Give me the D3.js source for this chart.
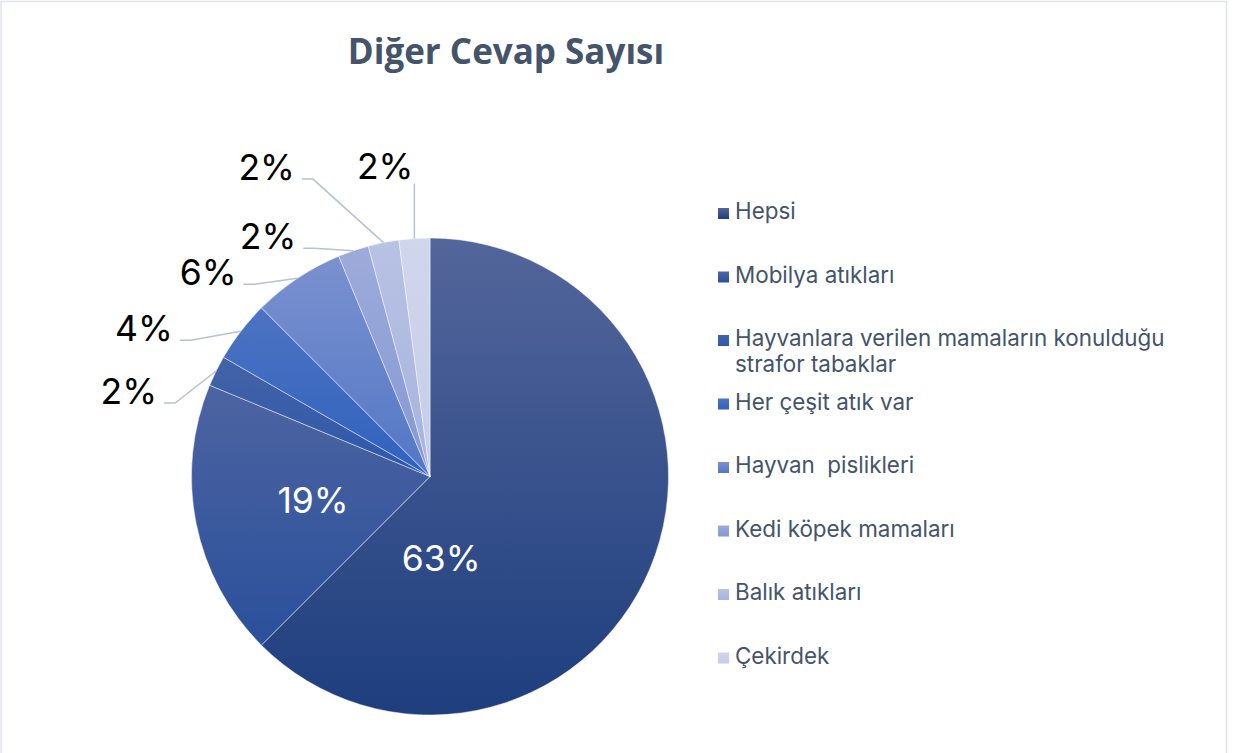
<!DOCTYPE html>
<html>
<head>
<meta charset="utf-8">
<script src="https://cdn.jsdelivr.net/npm/d3@7"></script>
<style>
  html, body { margin: 0; padding: 0; background: #fff; }
  svg { display: block; }
  text { white-space: pre; }
</style>
</head>
<body>
<svg id="chart" width="1235" height="753"></svg>
<script>
// ---- data ----
const title = "Diğer Cevap Sayısı";
const categories = [
  "Hepsi",
  "Mobilya atıkları",
  "Hayvanlara verilen mamaların konulduğu strafor tabaklar",
  "Her çeşit atık var",
  "Hayvan  pislikleri",
  "Kedi köpek mamaları",
  "Balık atıkları",
  "Çekirdek"
];
const legendLines = [
  ["Hepsi"],
  ["Mobilya atıkları"],
  ["Hayvanlara verilen mamaların konulduğu", "strafor tabaklar"],
  ["Her çeşit atık var"],
  ["Hayvan  pislikleri"],
  ["Kedi köpek mamaları"],
  ["Balık atıkları"],
  ["Çekirdek"]
];
const counts = [30, 9, 1, 2, 3, 1, 1, 1];

// ---- styles ----
const colorTop = ["#53669b", "#4d64a1", "#4463a6", "#4d73c2", "#7b91cf", "#9eabda", "#b8c2e3", "#d0d6ec"];
const colorBottom = ["#1e3e7e", "#2a509b", "#2d57ad", "#2f62be", "#5277c6", "#8498d2", "#a6b3de", "#c4cce8"];
const insideLabel = [true, true, false, false, false, false, false, false];
// inside label nudges relative to the slice centroid at half radius (px)
const insideNudge = [[-99, 36], [0, 0]];
// outside label attach point offsets relative to the slice's edge point (px)
const labelOffset = [null, null, [-52, 32], [-61, 9], [-54, 6], [-50, -2.5], [-81.5, -63.5], [0, -55]];

const svg = d3.select("#chart");
const cx = 430, cy = 476.5, R = 238.5;

// frame
svg.append("rect")
  .attr("x", 1).attr("y", 1.5).attr("width", 1225.5).attr("height", 800)
  .attr("fill", "none").attr("stroke", "#dfe3e9").attr("stroke-width", 1.5);

// title
svg.append("text")
  .attr("x", 506).attr("y", 64)
  .attr("text-anchor", "middle")
  .attr("font-family", "'Open Sans', sans-serif")
  .attr("font-weight", 700)
  .attr("font-size", 35)
  .attr("fill", "#44546a")
  .text(title);

// gradients
const defs = svg.append("defs");
categories.forEach((c, i) => {
  const g = defs.append("linearGradient").attr("id", "grad" + i)
    .attr("x1", 0).attr("y1", 0).attr("x2", 0).attr("y2", 1);
  g.append("stop").attr("offset", "0%").attr("stop-color", colorTop[i]);
  g.append("stop").attr("offset", "100%").attr("stop-color", colorBottom[i]);
});

const data = categories.map((c, i) => ({ name: c, value: counts[i], i }));
const total = d3.sum(counts);
const pie = d3.pie().value(d => d.value).sort(null).startAngle(0).endAngle(2 * Math.PI);
const arcs = pie(data);
const arc = d3.arc().innerRadius(0).outerRadius(R);
const edgeArc = d3.arc().innerRadius(R).outerRadius(R);
const fmt = d => Math.round(d / total * 100) + "%";

const g = svg.append("g").attr("transform", `translate(${cx},${cy})`);
g.selectAll("path.slice").data(arcs).join("path")
  .attr("class", "slice")
  .attr("d", arc)
  .attr("fill", d => `url(#grad${d.data.i})`)
  .attr("stroke", "rgba(255,255,255,0.6)")
  .attr("stroke-width", 0.75);

// inside labels
const inArc = d3.arc().innerRadius(R * 0.5).outerRadius(R * 0.5);
g.selectAll("text.inlab").data(arcs.filter(d => insideLabel[d.data.i])).join("text")
  .attr("class", "inlab")
  .attr("transform", d => {
    const c = inArc.centroid(d);
    const n = insideNudge[d.data.i];
    return `translate(${c[0] + n[0]},${c[1] + n[1]})`;
  })
  .attr("text-anchor", "middle")
  .attr("dy", "0.36em")
  .attr("font-family", "Inter, 'Liberation Sans', sans-serif")
  .attr("font-size", 35.5)
  .attr("fill", "#ffffff")
  .text(d => fmt(d.data.value));

// outside labels with leader lines
const outside = arcs.filter(d => !insideLabel[d.data.i]);
outside.forEach(d => {
  const e = edgeArc.centroid(d);
  const off = labelOffset[d.data.i];
  const a = [e[0] + off[0], e[1] + off[1]];
  let pts, tx, ty;
  if (off[0] === 0) {
    pts = [a, e];
    tx = a[0] - 1; ty = a[1] - 5;
  } else {
    const elbow = [a[0] + 11, a[1]];
    pts = [a, elbow, e];
    tx = a[0] - 7; ty = a[1] + 1;
  }
  g.append("path")
    .attr("d", d3.line()(pts))
    .attr("fill", "none")
    .attr("stroke", "#b7c1d0")
    .attr("stroke-width", 1.5);
  g.append("text")
    .attr("x", tx).attr("y", ty)
    .attr("text-anchor", "end")
    .attr("font-family", "Inter, 'Liberation Sans', sans-serif")
    .attr("font-size", 35.5)
    .attr("fill", "#000000")
    .text(fmt(d.data.value));
});

// legend
const legendY = d3.scalePoint().domain(d3.range(categories.length)).range([219, 663.5]);
const lg = svg.append("g");
categories.forEach((c, i) => {
  const y = legendY(i);
  lg.append("rect")
    .attr("x", 718).attr("y", y - 11).attr("width", 11).attr("height", 11)
    .attr("fill", `url(#grad${i})`);
  const t = lg.append("text")
    .attr("x", 735).attr("y", y)
    .attr("font-family", "Inter, 'Liberation Sans', sans-serif")
    .attr("font-size", 22.4)
    .attr("fill", "#44546a");
  legendLines[i].forEach((line, k) => {
    t.append("tspan").attr("x", 735).attr("y", y + k * 25.5).text(line);
  });
});
</script>
</body>
</html>
